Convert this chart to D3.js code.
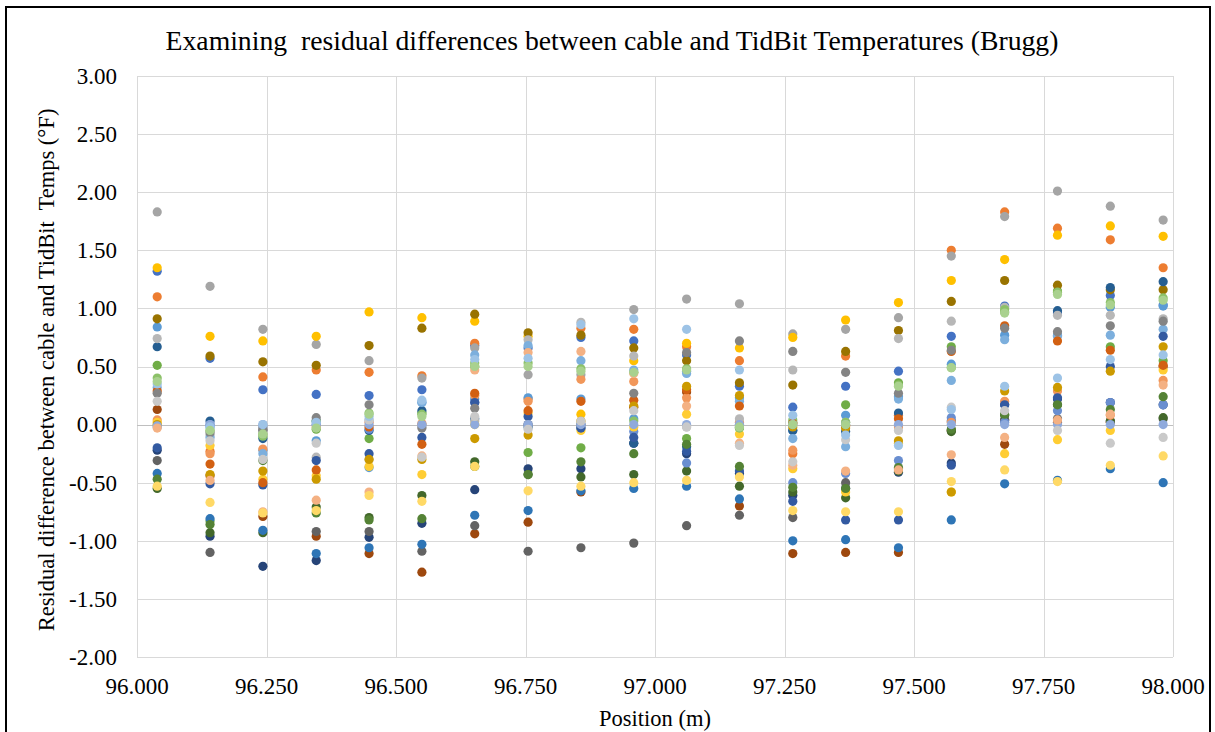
<!DOCTYPE html>
<html><head><meta charset="utf-8">
<script src="https://cdn.jsdelivr.net/npm/d3@7"></script>
<style>
body{margin:0;background:#fff;}
svg text{font-family:"Liberation Serif","Times New Roman",serif;fill:#000;}
</style>
</head><body>
<svg id="chart" width="1215" height="732"></svg>
<script>
const positions = [96.039, 96.141, 96.243, 96.346, 96.448, 96.550, 96.652, 96.755, 96.857, 96.959,
                   97.061, 97.163, 97.266, 97.368, 97.470, 97.572, 97.675, 97.777, 97.879, 97.981];
const xTicks = [96.0, 96.25, 96.5, 96.75, 97.0, 97.25, 97.5, 97.75, 98.0];
const yTicks = [-2.0, -1.5, -1.0, -0.5, 0.0, 0.5, 1.0, 1.5, 2.0, 2.5, 3.0];
const seriesColors = ["#4472C4","#ED7D31","#A5A5A5","#FFC000","#5B9BD5","#70AD47",
                      "#264478","#9E480E","#636363","#997300","#255E91","#43682B",
                      "#698ED0","#F1975A","#B7B7B7","#FFCD33","#7CAFDD","#8CC168",
                      "#335AA1","#D26012","#848484","#CC9A00","#2E75B6","#548235",
                      "#8FAADC","#F4B183","#C9C9C9","#FFD966","#9DC3E6","#A9D18E"];

const s01 = [1.32, 0.57, 0.30, 0.26, 0.25, 0.30, 0.68, 0.66, 0.75, 0.72, 0.60, 0.33, 0.15, 0.33, 0.46, 0.76, 1.02, 0.96, 1.11, 1.03];
const s02 = [1.10, -0.23, 0.41, 0.47, 0.45, 0.42, 0.70, 0.22, 0.83, 0.82, 0.67, 0.55, -0.25, 0.59, 0.08, 1.50, 1.83, 1.69, 1.59, 1.35];
const s03 = [1.83, 1.19, 0.82, 0.69, 0.55, 0.40, 0.66, 0.43, 0.43, 0.99, 1.08, 1.04, 0.78, 0.82, 0.92, 1.45, 1.79, 2.01, 1.88, 1.76];
const s04 = [1.35, 0.76, 0.72, 0.76, 0.97, 0.92, 0.89, 0.76, 0.09, 0.55, 0.70, 0.66, 0.75, 0.90, 1.05, 1.24, 1.42, 1.63, 1.71, 1.62];
const s05 = [0.84, -0.02, -0.22, -0.14, -0.37, 0.19, 0.22, 0.23, 0.22, 0.05, 0.46, 0.23, -0.05, 0.08, 0.24, 0.52, 0.77, 0.77, 1.01, 1.02];
const s06 = [0.51, -0.83, -0.08, -0.04, -0.12, 0.10, 0.50, -0.24, -0.20, 0.45, -0.12, -0.03, 0.02, 0.17, 0.36, 0.67, 0.97, 1.15, 0.67, 0.55];
const s07 = [-0.22, -0.96, -1.22, -1.17, -0.97, -0.85, -0.56, -0.38, -0.38, -0.16, -0.25, -0.42, -0.61, -0.55, -0.41, -0.33, 0.04, 0.22, 0.19, 0.17];
const s08 = [0.13, -0.44, -0.79, -0.96, -1.11, -1.27, -0.94, -0.84, -0.58, 0.15, 0.28, -0.70, -1.11, -1.10, -1.10, -0.05, -0.17, 0.02, 0.02, 0.50];
const s09 = [-0.31, -1.10, -0.05, -0.92, -0.92, -1.09, -0.87, -1.09, -1.06, -1.02, -0.87, -0.78, -0.80, -0.50, -0.38, -0.05, 0.04, 0.05, 0.03, 0.05];
const s10 = [0.91, 0.59, 0.54, 0.51, 0.68, 0.83, 0.95, 0.79, 0.77, 0.66, 0.55, 0.36, 0.34, 0.63, 0.81, 1.06, 1.24, 1.20, 1.16, 1.16];
const s11 = [0.67, 0.03, -0.12, 0.03, -0.05, 0.12, 0.05, -0.02, -0.03, -0.16, -0.19, -0.02, -0.05, -0.06, 0.10, 0.03, 0.17, 0.98, 1.18, 1.23];
const s12 = [-0.55, -0.93, -0.93, -0.71, -0.80, -0.61, -0.32, -0.43, -0.45, -0.43, -0.40, -0.53, -0.58, -0.63, -0.40, -0.06, 0.08, 0.17, 0.03, 0.06];
const s13 = [-0.02, 0.00, -0.02, 0.00, -0.04, 0.00, 0.19, 0.00, 0.00, -0.06, -0.33, 0.00, -0.50, -0.42, -0.31, 0.06, 0.02, 0.12, 0.19, 0.17];
const s14 = [0.04, -0.25, -0.21, -0.02, 0.02, 0.01, 0.25, 0.20, 0.39, 0.37, 0.23, 0.02, -0.22, -0.01, -0.02, 0.02, 0.20, 0.29, 0.08, 0.38];
const s15 = [0.74, -0.09, -0.02, -0.28, -0.30, -0.02, 0.03, 0.73, 0.88, 0.59, -0.02, 0.05, 0.47, 0.02, 0.74, 0.89, 1.01, 0.94, 0.94, 0.91];
const s16 = [0.02, -0.18, -0.47, -0.44, -0.36, -0.43, 0.00, 0.10, -0.05, -0.02, 0.09, -0.08, -0.38, -0.58, -0.16, -0.58, -0.25, -0.13, -0.05, 0.47];
const s17 = [0.32, -0.11, -0.25, 0.03, 0.04, 0.19, 0.60, 0.68, 0.55, 0.47, 0.44, 0.20, -0.12, -0.19, 0.22, 0.38, 0.73, 0.76, 0.77, 0.82];
const s18 = [0.40, -0.05, -0.10, 0.03, 0.10, 0.09, 0.53, 0.53, 0.48, 0.03, 0.48, -0.03, 0.04, 0.02, 0.34, 0.49, 0.99, 1.14, 1.05, 1.09];
const s19 = [-0.20, -0.51, -0.52, -0.31, -0.25, -0.11, 0.19, 0.07, -0.03, -0.11, -0.23, -0.40, -0.66, -0.82, -0.82, -0.35, 0.17, 0.23, 0.50, 0.76];
const s20 = [0.29, -0.34, -0.50, -0.39, -0.02, -0.17, 0.27, 0.12, 0.20, 0.21, 0.30, 0.16, 0.01, -0.01, 0.05, 0.63, 0.85, 0.72, 0.64, 0.51];
const s21 = [0.27, -0.07, -0.04, 0.06, 0.17, -0.03, 0.14, 0.00, 0.00, 0.27, 0.62, 0.72, 0.63, 0.45, 0.27, 0.64, 0.83, 0.80, 0.85, 0.89];
const s22 = [0.00, -0.43, -0.40, -0.47, -0.30, -0.30, -0.12, -0.09, 0.03, 0.16, 0.33, 0.25, -0.02, -0.03, -0.14, -0.58, 0.29, 0.32, 0.46, 0.67];
const s23 = [-0.42, -0.81, -0.91, -1.11, -1.06, -1.03, -0.78, -0.74, -0.57, -0.55, -0.53, -0.64, -1.00, -0.99, -1.06, -0.82, -0.51, -0.48, -0.38, -0.50];
const s24 = [-0.47, -0.86, -0.31, -0.76, -0.82, -0.81, -0.36, -0.43, -0.32, -0.25, -0.17, -0.36, -0.54, -0.55, -0.37, -0.04, 0.09, 0.17, 0.13, 0.24];
const s25 = [-0.01, 0.00, 0.00, 0.00, 0.00, 0.00, 0.00, 0.00, 0.00, 0.00, 0.00, 0.00, 0.00, 0.00, 0.00, 0.00, 0.00, 0.00, 0.00, 0.00];
const s26 = [-0.03, -0.48, -0.75, -0.65, -0.58, -0.27, 0.47, 0.62, 0.63, 0.44, 0.16, -0.16, -0.35, -0.40, -0.39, -0.26, -0.11, 0.04, 0.09, 0.34];
const s27 = [0.20, -0.14, -0.30, -0.16, 0.04, -0.28, 0.07, -0.04, 0.03, 0.12, -0.02, -0.18, -0.32, -0.13, -0.05, 0.15, 0.12, -0.05, -0.16, -0.11];
const s28 = [-0.53, -0.67, -0.76, -0.74, -0.61, -0.66, -0.36, -0.57, -0.53, -0.50, -0.48, -0.45, -0.74, -0.75, -0.75, -0.49, -0.39, -0.49, -0.35, -0.27];
const s29 = [0.35, -0.02, 0.00, 0.02, 0.07, 0.21, 0.56, 0.57, 0.86, 0.91, 0.82, 0.47, 0.08, -0.09, -0.18, 0.13, 0.33, 0.40, 0.56, 0.60];
const s30 = [0.37, -0.05, -0.08, -0.03, 0.09, 0.07, 0.50, 0.50, 0.46, 0.45, 0.47, -0.02, 0.00, 0.00, 0.33, 0.49, 0.96, 1.12, 1.03, 1.07];

const seriesValues = [s01,s02,s03,s04,s05,s06,s07,s08,s09,s10,s11,s12,s13,s14,s15,
                      s16,s17,s18,s19,s20,s21,s22,s23,s24,s25,s26,s27,s28,s29,s30];

const titleText = "Examining  residual differences between cable and TidBit Temperatures (Brugg)";
const xTitle = "Position (m)";
const yTitle = "Residual difference between cable and TidBit  Temps (°F)";

const svg = d3.select("#chart");
const plot = {left:137, right:1173, top:76, bottom:657};

const x = d3.scaleLinear().domain([96, 98]).range([plot.left, plot.right]);
const y = d3.scaleLinear().domain([-2, 3]).range([plot.bottom, plot.top]);
const fmtY = d => d3.format(".2f")(d).replace("\u2212","-");
const fmtX = d => d3.format(".3f")(d).replace("\u2212","-");

// outer frame
svg.append("rect").attr("x",6).attr("y",7).attr("width",1204).attr("height",740)
  .attr("fill","#fff").attr("stroke","#000").attr("stroke-width",2);

// gridlines
svg.append("g").selectAll("line").data(yTicks).join("line")
  .attr("x1",plot.left).attr("x2",plot.right)
  .attr("y1",d=>Math.round(y(d))+0.5).attr("y2",d=>Math.round(y(d))+0.5)
  .attr("stroke","#D9D9D9").attr("stroke-width",1);
svg.append("g").selectAll("line").data(xTicks).join("line")
  .attr("x1",d=>Math.round(x(d))+0.5).attr("x2",d=>Math.round(x(d))+0.5)
  .attr("y1",plot.top).attr("y2",plot.bottom)
  .attr("stroke","#D9D9D9").attr("stroke-width",1);
// zero axis line
svg.append("line").attr("x1",plot.left).attr("x2",plot.right)
  .attr("y1",Math.round(y(0))+0.5).attr("y2",Math.round(y(0))+0.5)
  .attr("stroke","#BFBFBF").attr("stroke-width",1);

// tick labels
svg.append("g").selectAll("text").data(yTicks).join("text")
  .attr("x",plot.left-20).attr("y",d=>y(d)).attr("dy","0.34em")
  .attr("text-anchor","end").attr("font-size",23).text(fmtY);
svg.append("g").selectAll("text").data(xTicks).join("text")
  .attr("x",d=>x(d)).attr("y",plot.bottom+20).attr("dy","0.72em")
  .attr("text-anchor","middle").attr("font-size",23).text(fmtX);

// points
const pts = [];
seriesValues.forEach((vals,si)=>vals.forEach((v,i)=>pts.push({si, x:positions[i], v})));
svg.append("g").selectAll("circle").data(pts).join("circle")
  .attr("cx",d=>x(d.x)).attr("cy",d=>y(d.v)).attr("r",4.6)
  .attr("fill",d=>seriesColors[d.si]);

// titles
svg.append("text").attr("x",612).attr("y",50).attr("text-anchor","middle")
  .attr("font-size",27.7).style("white-space","pre").text(titleText);
svg.append("text").attr("x",655).attr("y",726).attr("text-anchor","middle")
  .attr("font-size",22.5).text(xTitle);
svg.append("text").attr("transform","translate(54,370) rotate(-90)").attr("text-anchor","middle")
  .attr("font-size",22.5).style("white-space","pre").text(yTitle);
</script>
</body></html>
